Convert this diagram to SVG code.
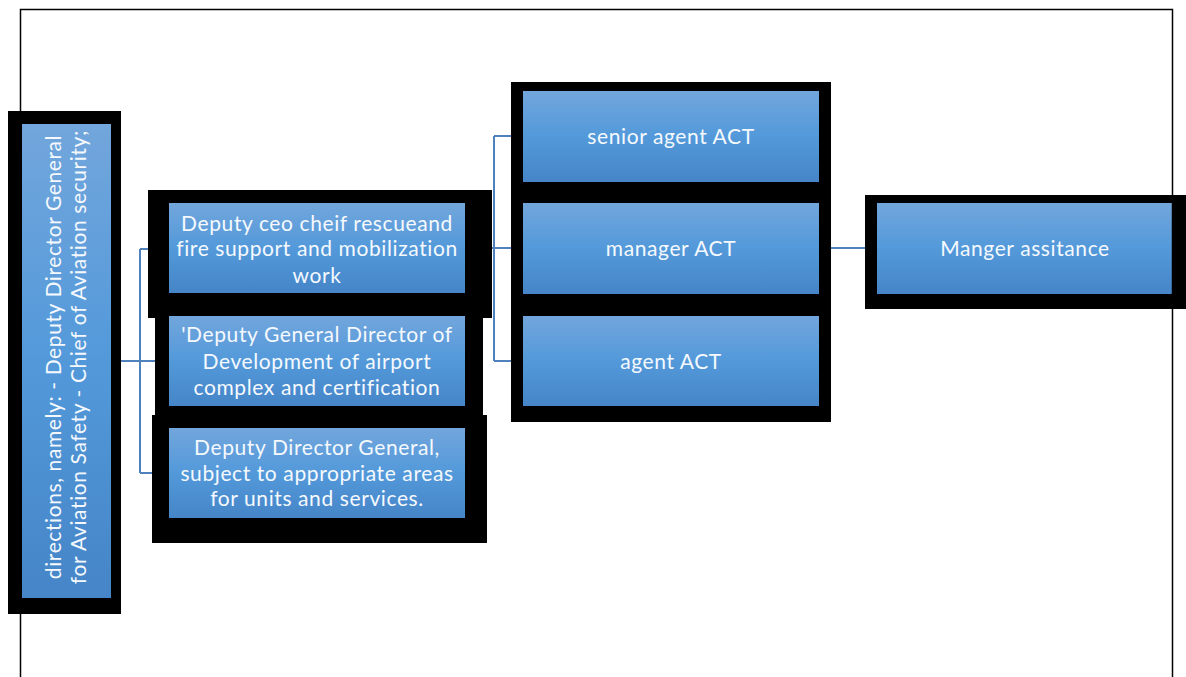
<svg xmlns="http://www.w3.org/2000/svg" width="1186" height="677" viewBox="0 0 1186 677">
  <defs>
    <linearGradient id="boxFill" x1="0" y1="0" x2="0" y2="1">
      <stop offset="0" stop-color="#72a6dc"/>
      <stop offset="0.5" stop-color="#5399da"/>
      <stop offset="1" stop-color="#4585c8"/>
    </linearGradient>
    <style>
      .frame { fill: none; stroke: #000; stroke-width: 1.5; }
      .shadow { fill: #000; }
      .box { fill: url(#boxFill); }
      .link { fill: none; stroke: #4f81bd; stroke-width: 2; }
      .label { font-family: Lato, "Open Sans", sans-serif; font-size: 21px; letter-spacing: 0.6px; fill: #f5f9fd; text-anchor: middle; }
    </style>
  </defs>

  <rect width="1186" height="677" fill="#fff"/>

  <!-- page frame, open at the bottom -->
  <path class="frame" d="M20.5 677 V9.5 H1172.5 V677"/>

  <!-- connectors -->
  <g id="connectors">
    <path class="link" d="M111 361 H140 M140 249 V473 M140 249 H160 M140 361 H160 M140 473 H160"/>
    <path class="link" d="M465 248 H494 M494 136 V361 M494 136 H515 M494 248 H515 M494 361 H515"/>
    <path class="link" d="M819 248 H870"/>
  </g>

  <!-- root node, vertical text -->
  <g id="node-directions">
    <rect class="shadow" x="8" y="111" width="113" height="503"/>
    <rect class="box" x="22" y="124" width="89" height="474"/>
    <text class="label" transform="translate(60.5,357) rotate(-90)">directions, namely: - Deputy Director General</text>
    <text class="label" transform="translate(85.5,357) rotate(-90)">for Aviation Safety - Chief of Aviation security;</text>
  </g>

  <g id="node-deputy-rescue">
    <rect class="shadow" x="148" y="190" width="344" height="128"/>
    <rect class="box" x="169" y="203" width="296" height="90"/>
    <text class="label" x="317" y="230.5">Deputy ceo cheif rescueand</text>
    <text class="label" x="317" y="255.5">fire support and mobilization</text>
    <text class="label" x="317" y="282.5">work</text>
  </g>

  <g id="node-deputy-development">
    <rect class="shadow" x="155" y="318" width="328" height="97"/>
    <rect class="box" x="169" y="316" width="296" height="90"/>
    <text class="label" x="317" y="341.5">'Deputy General Director of</text>
    <text class="label" x="317" y="368.5">Development of airport</text>
    <text class="label" x="317" y="394.5">complex and certification</text>
  </g>

  <g id="node-deputy-general">
    <rect class="shadow" x="152" y="415" width="335" height="128"/>
    <rect class="box" x="169" y="428" width="296" height="90"/>
    <text class="label" x="317" y="454.5">Deputy Director General,</text>
    <text class="label" x="317" y="480.5">subject to appropriate areas</text>
    <text class="label" x="317" y="505.5">for units and services.</text>
  </g>

  <!-- ACT column shares one backing block -->
  <rect class="shadow" x="511" y="82" width="320" height="340"/>

  <g id="node-senior-agent">
    <rect class="box" x="523" y="91" width="296" height="91"/>
    <text class="label" x="671" y="143.5">senior agent ACT</text>
  </g>

  <g id="node-manager">
    <rect class="box" x="523" y="203" width="296" height="91"/>
    <text class="label" x="671" y="255.5">manager ACT</text>
  </g>

  <g id="node-agent">
    <rect class="box" x="523" y="316" width="296" height="90"/>
    <text class="label" x="671" y="368.5">agent ACT</text>
  </g>

  <g id="node-manager-assistance">
    <rect class="shadow" x="865" y="195" width="321" height="114"/>
    <rect class="box" x="877" y="203" width="295" height="91"/>
    <text class="label" x="1025" y="255.5">Manger assitance</text>
  </g>

  <!-- frame edge stays visible across the right-hand block -->
  <path class="frame" d="M1172.5 195 V309"/>
</svg>
